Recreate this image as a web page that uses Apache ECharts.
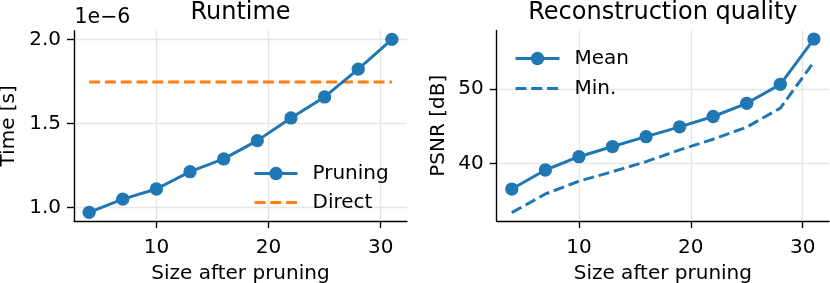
<!DOCTYPE html>
<html>
<head>
<meta charset="utf-8">
<script src="https://cdn.jsdelivr.net/npm/echarts@6/dist/echarts.min.js"></script>
<style>
html,body{margin:0;padding:0;background:#fff;}
#chart{width:830px;height:283px;}
</style>
</head>
<body>
<div id="chart"></div>
<script>
// ---- data ----
var sizes = [4, 7, 10, 13, 16, 19, 22, 25, 28, 31];
var runtimePruning = [0.970, 1.049, 1.109, 1.212, 1.288, 1.397, 1.532, 1.657, 1.823, 2.000]; // x 1e-6 s
var runtimeDirect = 1.746; // x 1e-6 s
var psnrMean = [36.61, 39.16, 40.94, 42.30, 43.62, 44.94, 46.32, 48.09, 50.63, 56.69];
var psnrMin = [33.45, 35.95, 37.66, 38.94, 40.28, 41.85, 43.28, 44.90, 47.45, 53.62];
var xTicks = [10, 20, 30];
var runtimeTicks = [1.0, 1.5, 2.0];
var psnrTicks = [40, 50];
var titles = ['Runtime', 'Reconstruction quality'];
var xLabel = 'Size after pruning';
var yLabels = ['Time [s]', 'PSNR [dB]'];
var offsetText = '1e\u22126';

function pairs(xs, ys) { return xs.map(function (x, i) { return [x, ys[i]]; }); }

var FONT = 'DejaVu Sans';
var BLUE = '#1f77b4', ORANGE = '#ff7f0e';
var GRIDC = '#e6e6e6';
var LW = 3, MS = 13.3, DASH = [11, 4.8];

function xAxisCfg(gridIndex) {
  return {
    type: 'value', gridIndex: gridIndex, min: 2.65, max: 32.35,
    axisLine: { show: true, lineStyle: { color: '#000', width: 1.4 } },
    axisTick: { show: true, customValues: xTicks, length: 7, lineStyle: { color: '#000', width: 1.4 } },
    axisLabel: { customValues: xTicks, fontSize: 20, color: '#000', fontFamily: FONT, margin: 17 },
    splitLine: { show: true, lineStyle: { color: GRIDC, width: 1.4 } },
    name: xLabel, nameLocation: 'middle', nameGap: 43,
    nameTextStyle: { fontSize: 20, color: '#000', fontFamily: FONT }
  };
}
function yAxisCfg(gridIndex, min, max, ticks, fmt, name, gap) {
  return {
    type: 'value', gridIndex: gridIndex, min: min, max: max,
    axisLine: { show: true, lineStyle: { color: '#000', width: 1.4 } },
    axisTick: { show: true, customValues: ticks, length: 7, lineStyle: { color: '#000', width: 1.4 } },
    axisLabel: { customValues: ticks, fontSize: 20, color: '#000', fontFamily: FONT, margin: 13, formatter: fmt },
    splitLine: { show: true, lineStyle: { color: GRIDC, width: 1.4 } },
    name: name, nameLocation: 'middle', nameGap: gap,
    nameTextStyle: { fontSize: 20, color: '#000', fontFamily: FONT }
  };
}
var legendText = { fontSize: 20, color: '#000', fontFamily: FONT, lineHeight: 20, padding: [0, 0, 0, 10] };

var chart = echarts.init(document.getElementById('chart'), null, { renderer: 'canvas' });
chart.setOption({
  animation: false,
  backgroundColor: '#fff',
  grid: [
    { left: 74, top: 30.7, width: 333, height: 190.3, outerBoundsMode: 'none', containLabel: false },
    { left: 496.7, top: 30.4, width: 332.3, height: 190.6, outerBoundsMode: 'none', containLabel: false }
  ],
  xAxis: [xAxisCfg(0), xAxisCfg(1)],
  yAxis: [
    yAxisCfg(0, 0.9185, 2.0515, runtimeTicks, function (v) { return v.toFixed(1); }, yLabels[0], 55),
    yAxisCfg(1, 32.33, 57.85, psnrTicks, function (v) { return String(v); }, yLabels[1], 48)
  ],
  legend: [
    {
      data: ['Pruning', { name: 'Direct', itemStyle: { opacity: 0 } }],
      orient: 'vertical', left: 248, top: 158.5,
      itemWidth: 43, itemHeight: 16.6, itemGap: 9,
      lineStyle: { width: LW },
      textStyle: legendText
    },
    {
      data: ['Mean', { name: 'Min.', itemStyle: { opacity: 0 } }],
      orient: 'vertical', left: 509, top: 43.5,
      itemWidth: 44, itemHeight: 16.6, itemGap: 10,
      lineStyle: { width: LW },
      textStyle: legendText
    }
  ],
  graphic: [
    { type: 'text', x: 240.5, y: 1, style: { text: titles[0], fontSize: 24, fontFamily: FONT, fill: '#000', align: 'center', verticalAlign: 'top' } },
    { type: 'text', x: 662.9, y: 1, style: { text: titles[1], fontSize: 24, fontFamily: FONT, fill: '#000', align: 'center', verticalAlign: 'top' } },
    { type: 'text', x: 74.5, y: 7.5, style: { text: offsetText, fontSize: 20.5, fontFamily: FONT, fill: '#000', align: 'left', verticalAlign: 'top' } }
  ],
  series: [
    {
      name: 'Pruning', type: 'line', xAxisIndex: 0, yAxisIndex: 0,
      data: pairs(sizes, runtimePruning), symbol: 'circle', symbolSize: MS,
      itemStyle: { color: BLUE }, lineStyle: { color: BLUE, width: LW }, z: 3
    },
    {
      name: 'Direct', type: 'line', xAxisIndex: 0, yAxisIndex: 0,
      data: pairs(sizes, sizes.map(function () { return runtimeDirect; })), symbol: 'none', showSymbol: false,
      itemStyle: { color: ORANGE }, lineStyle: { color: ORANGE, width: LW, type: DASH }, z: 2
    },
    {
      name: 'Mean', type: 'line', xAxisIndex: 1, yAxisIndex: 1,
      data: pairs(sizes, psnrMean), symbol: 'circle', symbolSize: MS,
      itemStyle: { color: BLUE }, lineStyle: { color: BLUE, width: LW }, z: 3
    },
    {
      name: 'Min.', type: 'line', xAxisIndex: 1, yAxisIndex: 1,
      data: pairs(sizes, psnrMin), symbol: 'none', showSymbol: false,
      itemStyle: { color: BLUE }, lineStyle: { color: BLUE, width: LW, type: DASH }, z: 2
    }
  ]
});
</script>
</body>
</html>
